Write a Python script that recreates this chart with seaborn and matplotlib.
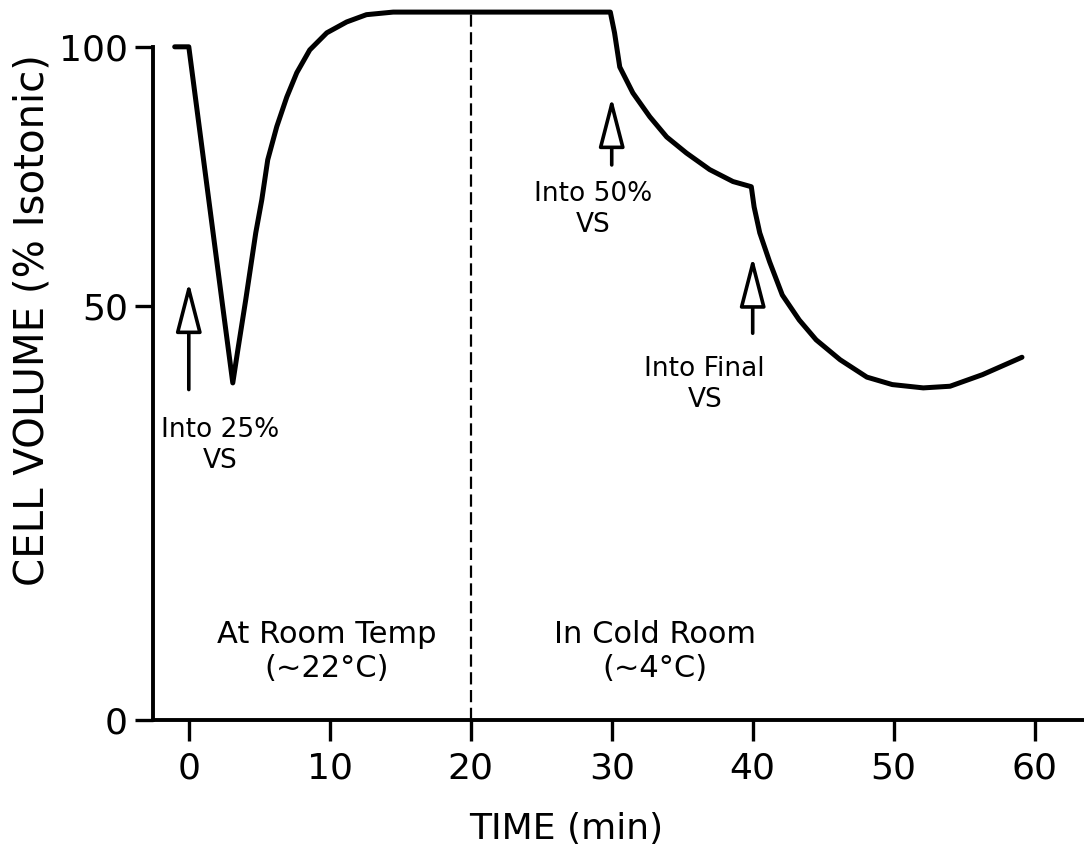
import numpy as np
import matplotlib
matplotlib.use("Agg")
import matplotlib.pyplot as plt
import seaborn as sns

# Values (time in min, volume in % isotonic)
time_min = [-1.0, 0.0, 2.4, 3.12, 3.48, 4.04, 4.75, 5.18, 5.60, 6.24, 6.95,
            7.66, 8.58, 9.79, 11.2, 12.6, 14.5, 29.9, 30.2, 30.57, 31.5, 32.7,
            33.9, 35.3, 36.95, 38.6, 39.9, 40.1, 40.5, 41.2, 42.1, 43.3, 44.5,
            46.2, 48.1, 49.9, 52.1, 54.0, 56.3, 59.1]
volume_pct = [100, 100, 50, 40.7, 44.7, 51.2, 64.1, 70.5, 78.2, 84.6, 90.3,
              95.0, 99.4, 102.7, 104.8, 106.2, 106.7, 106.7, 102.7, 96.1, 91.1, 86.5,
              82.6, 79.5, 76.3, 74.0, 73.0, 69.1, 64.1, 58.5, 52.1, 48.3, 45.9,
              43.5, 41.4, 40.5, 40.1, 40.3, 41.7, 43.8]

divider_time = 20

arrow_x = [0, 30, 40]
arrow_tail = [39.9, 77.2, 46.7]
arrow_tip = [54.6, 90.3, 59.5]
arrow_labels = ["Into 25%\nVS", "Into 50%\nVS", "Into Final\nVS"]
arrow_label_x = [2.2, 28.7, 36.6]
arrow_label_y = [33.2, 68.6, 40.5]

region_labels = ["At Room Temp\n(~22°C)", "In Cold Room\n(~4°C)"]
region_label_x = [9.8, 33.1]
region_label_y = [8.3, 8.3]

x_ticks = [0, 10, 20, 30, 40, 50, 60]
y_ticks = [0, 50, 100]


# the hand drawn y axis is not linear: 0-50 is longer than 50-100
def fwd(y):
    y = np.asarray(y, dtype=float)
    return np.where(y <= 50, y * 414 / 50, 414 + (y - 50) * 259 / 50)


def inv(v):
    v = np.asarray(v, dtype=float)
    return np.where(v <= 414, v * 50 / 414, 50 + (v - 414) * 50 / 259)


sns.set_style("ticks")
plt.rcParams["font.family"] = ["DejaVu Sans"]
plt.rcParams.update({
    "text.color": "black",
    "axes.labelcolor": "black",
    "axes.edgecolor": "black",
    "xtick.color": "black",
    "ytick.color": "black",
})

fig = plt.figure(figsize=(10.84, 8.58), dpi=100)
ax = fig.add_axes([0.141, 0.1608, 0.859, 0.839])
ax.set_yscale("function", functions=(fwd, inv))

sns.lineplot(x=time_min, y=volume_pct, ax=ax, color="black", lw=3.6,
             sort=False, estimator=None, solid_capstyle="round",
             solid_joinstyle="round")

ax.vlines(divider_time, 0, max(volume_pct), colors="black", lw=1.6,
          linestyles=(0, (5.5, 2.5)))

for x, y0, y1 in zip(arrow_x, arrow_tail, arrow_tip):
    ax.annotate("", xy=(x, y1), xytext=(x, y0),
                arrowprops=dict(arrowstyle="-|>,head_length=1.55,head_width=0.4",
                                mutation_scale=20, fc="white", ec="black", lw=2.6,
                                shrinkA=0, shrinkB=0))

for txt, x, y in zip(arrow_labels, arrow_label_x, arrow_label_y):
    ax.text(x, y, txt, ha="center", va="center", fontsize=19,
            multialignment="center", linespacing=1.25)

for txt, x, y in zip(region_labels, region_label_x, region_label_y):
    ax.text(x, y, txt, ha="center", va="center", fontsize=22,
            multialignment="center", linespacing=1.2)

ax.set_xlim(-2.55, 63.5)
ax.set_ylim(0, 109)
ax.set_xticks(x_ticks)
ax.set_yticks(y_ticks)
ax.yaxis.set_minor_locator(matplotlib.ticker.NullLocator())
ax.tick_params(axis="x", length=15, width=2.4, pad=8, labelsize=26)
ax.tick_params(axis="y", length=13, width=2.4, pad=5, labelsize=26)

sns.despine(ax=ax)
ax.spines["left"].set_bounds(0, 100)
ax.spines["left"].set_linewidth(2.8)
ax.spines["bottom"].set_linewidth(2.8)

ax.set_xlabel("TIME (min)", fontsize=26)
ax.set_ylabel("CELL VOLUME (% Isotonic)", fontsize=29)
ax.xaxis.set_label_coords(0.4436, -0.128)
ax.yaxis.set_label_coords(-0.108, 0.556)

fig.savefig("out.png", dpi=100)
plt.close(fig)
